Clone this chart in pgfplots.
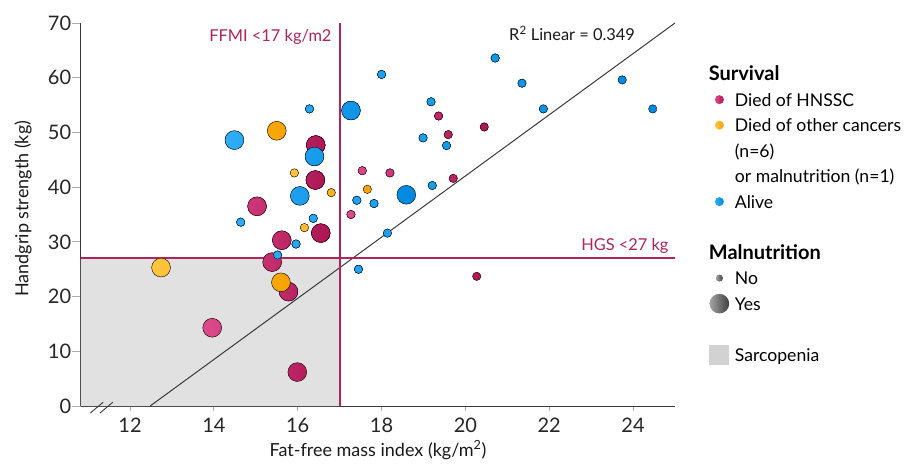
\documentclass[border=0pt]{standalone}
\usepackage{fontspec}
\setmainfont{Lato}
\usepackage{pgfplots}
\pgfplotsset{compat=1.18}

\definecolor{magL}{HTML}{DE4A8C}
\definecolor{magR}{HTML}{AC1552}
\definecolor{orgL}{HTML}{FFC640}
\definecolor{orgR}{HTML}{F7A200}
\definecolor{bluL}{HTML}{30ACF7}
\definecolor{bluR}{HTML}{0089E0}
\definecolor{gryL}{HTML}{A4A4A4}
\definecolor{gryR}{HTML}{3E3E3E}
\definecolor{magline}{HTML}{B02459}
\definecolor{sarc}{HTML}{E1E1E2}
\definecolor{sarcleg}{HTML}{D2D2D2}
\definecolor{axiscol}{HTML}{3A3A3A}

% horizontal gradient balls
\pgfdeclarehorizontalshading{magshade}{100bp}{color(0bp)=(magL); color(25bp)=(magL); color(75bp)=(magR); color(100bp)=(magR)}
\pgfdeclarehorizontalshading{orgshade}{100bp}{color(0bp)=(orgL); color(25bp)=(orgL); color(75bp)=(orgR); color(100bp)=(orgR)}
\pgfdeclarehorizontalshading{blushade}{100bp}{color(0bp)=(bluL); color(25bp)=(bluL); color(75bp)=(bluR); color(100bp)=(bluR)}
\pgfdeclarehorizontalshading{gryshade}{100bp}{color(0bp)=(gryL); color(25bp)=(gryL); color(75bp)=(gryR); color(100bp)=(gryR)}
\pgfdeclareplotmark{magball}{\pgfpathcircle{\pgfpointorigin}{\pgfplotmarksize}\pgfshadepath{magshade}{0}}
\pgfdeclareplotmark{orgball}{\pgfpathcircle{\pgfpointorigin}{\pgfplotmarksize}\pgfshadepath{orgshade}{0}}
\pgfdeclareplotmark{bluball}{\pgfpathcircle{\pgfpointorigin}{\pgfplotmarksize}\pgfshadepath{blushade}{0}}
\pgfdeclareplotmark{gryball}{\pgfpathcircle{\pgfpointorigin}{\pgfplotmarksize}\pgfshadepath{gryshade}{0}}

\pgfplotsset{
  legmark/.style 2 args={legend image code/.code={\pgfplotmarksize=#2\relax\pgfuseplotmark{#1}}},
}
\newcommand{\head}[1]{\hspace*{-26pt}{\fontsize{20}{20}\selectfont\bfseries #1}}

\begin{document}
\begin{tikzpicture}
\begin{axis}[
  scale only axis,
  width=594pt, height=383pt,
  xmin=10.83, xmax=25, ymin=0, ymax=70,
  axis lines=left,
  axis line style={-, draw=axiscol, line width=1pt},
  xtick={12,14,...,24}, ytick={0,10,...,70},
  tick align=outside,
  tick style={draw=gray!65, line width=0.8pt},
  ytick style={/pgfplots/major tick length=8.5pt},
  xtick style={/pgfplots/major tick length=5pt},
  /pgf/number format/assume math mode=true,
  ticklabel style={font=\fontsize{20}{20}\selectfont, text=black!85},
  yticklabel style={xshift=-2pt},
  xticklabel style={yshift=-4pt},
  xlabel={Fat-free mass index (kg/m\textsuperscript{2})},
  ylabel={Handgrip strength (kg)},
  every axis x label/.style={at={(axis description cs:0.5,-0.1149)}, anchor=center,
    font=\fontsize{18}{18}\selectfont, text=black!90},
  every axis y label/.style={at={(axis description cs:-0.0976,0.515)}, rotate=90, anchor=center,
    font=\fontsize{18}{18}\selectfont, text=black!90},
  clip=false,
  legend cell align=left,
  legend style={at={(1.0572,0.9003)}, anchor=north west, draw=none, fill=none,
    inner sep=0pt, column sep=5.7pt, row sep=0pt,
    font=\fontsize{17.6}{17.6}\selectfont,
    nodes={inner sep=0pt, text height=19.3pt, text depth=6.2pt}},
]
% sarcopenia area
\addplot[draw=none, fill=sarc, forget plot]
  coordinates {(10.83,0) (10.83,27) (17,27) (17,0)} \closedcycle;
% linear fit
\addplot[draw=axiscol, line width=1pt, forget plot] coordinates {(12.48,0) (25,70)};
% cut-off lines
\addplot[color=magline, line width=1.7pt, forget plot] coordinates {(10.83,27) (25,27)};
\addplot[color=magline, line width=1.9pt, forget plot] coordinates {(17,0) (17,70)};

% Died of HNSSC, malnutrition yes
\addplot[only marks, mark=magball, mark size=9.4pt, forget plot] coordinates {
(16.43,47.7) (16.42,41.3) (15.03,36.5) (16.55,31.6) (15.62,30.3)
(15.39,26.3) (15.78,20.9) (13.96,14.3) (15.99,6.2)};
% Died of HNSSC, malnutrition no
\addplot[only marks, mark=magball, mark size=4.2pt, forget plot] coordinates {
(17.27,35.0) (17.54,43.0) (18.20,42.6) (19.36,53.0) (20.45,51.0)
(19.59,49.6) (19.71,41.6) (20.27,23.7)};
% Died of other cancers / malnutrition, yes
\addplot[only marks, mark=orgball, mark size=9.4pt, forget plot] coordinates {
(15.50,50.3) (12.74,25.3) (15.60,22.6)};
% no
\addplot[only marks, mark=orgball, mark size=4.2pt, forget plot] coordinates {
(15.92,42.6) (16.80,39.0) (16.16,32.6) (17.66,39.6)};
% Alive, malnutrition yes
\addplot[only marks, mark=bluball, mark size=9.4pt, forget plot] coordinates {
(17.27,54.0) (14.49,48.6) (16.40,45.6) (16.05,38.4) (18.59,38.6)};
% Alive, malnutrition no
\addplot[only marks, mark=bluball, mark size=4.2pt, forget plot] coordinates {
(16.28,54.3) (14.64,33.6) (16.37,34.3) (15.96,29.6) (15.52,27.6)
(17.45,25.0) (17.41,37.6) (17.82,37.0) (18.00,60.6) (20.71,63.6)
(19.18,55.6) (18.99,49.0) (19.55,47.6) (19.21,40.3) (18.14,31.6)
(21.35,59.0) (21.86,54.3) (23.74,59.6) (24.47,54.3)};

% annotations
\node[anchor=base east, inner sep=0pt, text=magline, font=\fontsize{16.4}{16.4}\selectfont] at (axis cs:16.81,66.63) {FFMI <17 kg/m2};
\node[anchor=base east, inner sep=0pt, text=magline, font=\fontsize{16.4}{16.4}\selectfont] at (axis cs:24.85,28.5) {HGS <27 kg};
\node[anchor=base east, inner sep=0pt, text=black!90, font=\fontsize{16.4}{16.4}\selectfont] at (axis cs:24.05,66.81) {R\textsuperscript{2} Linear = 0.349};
% axis break
\draw[axiscol, line width=0.9pt] (axis cs:11.05,-1.3) -- (axis cs:11.36,0.7);
\draw[axiscol, line width=0.9pt] (axis cs:11.28,-1.3) -- (axis cs:11.59,0.7);

% legend
\addlegendimage{empty legend}\addlegendentry{\head{Survival}}
\addlegendimage{legmark={magball}{4.5pt}}\addlegendentry{Died of HNSSC}
\addlegendimage{legmark={orgball}{4.5pt}}\addlegendentry{Died of other cancers}
\addlegendimage{empty legend}\addlegendentry{(n=6)}
\addlegendimage{empty legend}\addlegendentry{or malnutrition (n=1)}
\addlegendimage{legmark={bluball}{4.5pt}}\addlegendentry{Alive}
\addlegendimage{empty legend}\addlegendentry{}
\addlegendimage{empty legend}\addlegendentry{\head{Malnutrition}}
\addlegendimage{legmark={gryball}{3.6pt}}\addlegendentry{No}
\addlegendimage{legmark={gryball}{9.8pt}}\addlegendentry{Yes}
\addlegendimage{empty legend}\addlegendentry{}
\addlegendimage{legend image code/.code={\fill[sarcleg] (-10pt,-9.5pt) rectangle (9pt,9.5pt);}}\addlegendentry{Sarcopenia}
\end{axis}
\pgfresetboundingbox
\path (-81pt,-58pt) rectangle (830pt,406pt);
\end{tikzpicture}
\end{document}
